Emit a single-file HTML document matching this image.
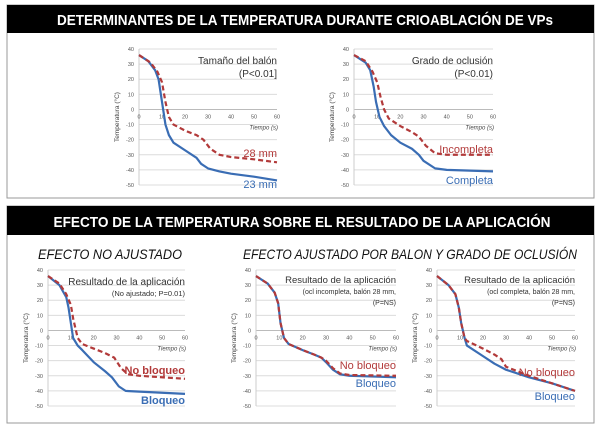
<!DOCTYPE html>
<html><head><meta charset="utf-8"><style>
html,body{margin:0;padding:0;background:#fff;width:600px;height:433px;overflow:hidden}
svg{display:block;font-family:"Liberation Sans",sans-serif}
</style></head><body>
<svg id="fig" width="600" height="433" viewBox="0 0 600 433">
<rect x="7" y="5" width="587" height="193" fill="#fff" stroke="#999"/>
<rect x="7" y="5" width="587" height="28" fill="#000"/>
<text x="305" y="25" fill="#fff" font-size="15" font-weight="bold" text-anchor="middle" textLength="496" lengthAdjust="spacingAndGlyphs">DETERMINANTES DE LA TEMPERATURA DURANTE CRIOABLACIÓN DE VPs</text>
<rect x="7" y="206" width="587" height="217" fill="#fff" stroke="#999"/>
<rect x="7" y="206" width="587" height="29" fill="#000"/>
<text x="302" y="227" fill="#fff" font-size="15" font-weight="bold" text-anchor="middle" textLength="497" lengthAdjust="spacingAndGlyphs">EFECTO DE LA TEMPERATURA SOBRE EL RESULTADO DE LA APLICACIÓN</text>
<text x="38" y="259" font-size="14" font-style="italic" fill="#111" textLength="144" lengthAdjust="spacingAndGlyphs">EFECTO NO AJUSTADO</text>
<text x="243" y="259" font-size="14" font-style="italic" fill="#111" textLength="334" lengthAdjust="spacingAndGlyphs">EFECTO AJUSTADO POR BALON Y GRADO DE OCLUSIÓN</text>
</svg>
<script>
const yTicks=[40,30,20,10,0,-10,-20,-30,-40,-50];
const xTicks=[0,10,20,30,40,50,60];
const c1SolidT=[0,4,7,8.5,9.5,10.5,11.5,13,15,20,25,27,30,35,40,50,60];
const c1SolidV=[36,32,26,20,10,0,-10,-17,-22,-27,-32,-36,-39,-41,-42.5,-44.5,-47];
const c1DashT=[0,5,8,10,11.5,13,15,20,25,28,31,35,40,50,60];
const c1DashV=[36,31,25,18,5,-5,-10,-14,-17,-20,-26,-30,-31.5,-33,-35];
const c2SolidT=[0,5,7,8.5,9.5,11,13,16,20,25,28,30,35,40,60];
const c2SolidV=[36,31,26,15,5,-5,-11,-17,-22,-26,-30,-34,-39,-40,-41];
const c2DashT=[0,5,8,10,11.5,13,15,20,25,28,31,35,40,60];
const c2DashV=[36,32,25,18,8,0,-6,-11,-15,-18,-24,-29,-30,-30];
const c3SolidT=[0,5,8,9,10,11,13,15,20,25,28,31,34,40,60];
const c3SolidV=[36,30,22,15,5,-5,-10,-13,-21,-27,-31,-37,-40,-40.5,-42];
const c3DashT=[0,5,8,10,11,13,15,20,25,29,32,35,40,60];
const c3DashV=[36,31,24,17,8,-5,-9,-12,-15,-18,-25,-29,-30,-32];
const c4SolidT=[0,5,8,9.5,10.5,12,14,20,25,28,30,33,36,40,60];
const c4SolidV=[36,31,25,18,5,-5,-9,-13,-16,-18,-21,-26,-29,-30,-31];
const c4DashT=[0,5,8,9.5,10.5,12,14,20,25,28,30,33,36,40,60];
const c4DashV=[36,31,25,18,5,-5,-9,-13,-16,-18,-20,-25,-28.5,-29.5,-30];
const c5SolidT=[0,5,8,9.5,10.5,12,13,20,25,30,40,50,60];
const c5SolidV=[36,30,24,15,5,-5,-10,-17,-22,-26,-31,-35,-40];
const c5DashT=[0,5,8,9.5,10.5,12,13,20,25,28,30,40,50,60];
const c5DashV=[36,30,24,15,5,-5,-7,-12,-16,-19,-24,-30,-35,-40];

const svg=document.getElementById('fig');
const NS='http://www.w3.org/2000/svg';
function mk(tag,attrs,parent){const e=document.createElementNS(NS,tag);for(const k in attrs)e.setAttribute(k,attrs[k]);(parent||svg).appendChild(e);return e;}
function chart(id,x0,x1,yTop,yBot,solidT,solidV,dashT,dashV,ann,labels){
  const g=mk('g',{});
  
  
  const sx=t=>x0+(t/60)*(x1-x0);
  const sy=v=>yTop+(40-v)/90*(yBot-yTop);
  yTicks.forEach(v=>{
    const l=mk('line',{x1:x0,x2:x1,y1:sy(v),y2:sy(v),stroke:v===0?'#bbb':'#dcdcdc','stroke-width':1},g);
    
    
    const t=mk('text',{x:x0-5,y:sy(v)+2,'font-size':5.5,'text-anchor':'end',fill:'#555'},g);
    
    
    t.textContent=v;
  });
  mk('line',{x1:x0,x2:x0,y1:yTop,y2:yBot,stroke:'#ccc'},g);
  xTicks.forEach(v=>{
    const t=mk('text',{x:sx(v),y:sy(0)+9,'font-size':5.5,'text-anchor':'middle',fill:'#555'},g);
    
    
    t.textContent=v;
  });
  const xl=mk('text',{x:x1+1,y:sy(0)+20,'font-size':6,'font-style':'italic','text-anchor':'end',fill:'#444'},g);
  
  
  xl.textContent='Tiempo (s)';
  const cy=(yTop+yBot)/2;
  const yl=mk('text',{x:x0-20,y:cy,'font-size':6.5,'text-anchor':'middle',fill:'#444',transform:`rotate(-90 ${x0-20} ${cy})`},g);
  
  
  yl.textContent='Temperatura (°C)';
  const ps=mk('polyline',{points:solidT.map((t,i)=>sx(t)+','+sy(solidV[i])).join(' '),fill:'none',stroke:'#3a6db4','stroke-width':2.2,'stroke-linejoin':'round'},g);
  
  
  const pd=mk('polyline',{points:dashT.map((t,i)=>sx(t)+','+sy(dashV[i])).join(' '),fill:'none',stroke:'#b23a3a','stroke-width':2.2,'stroke-dasharray':'5,3'},g);
  
  
  ann.forEach(a=>{
    const t=mk('text',{x:x1,y:a[1],'font-size':a[2],'text-anchor':'end',fill:'#333'},g);
    
    
    t.textContent=a[0];
  });
  labels.forEach(a=>{
    const t=mk('text',{x:x1,y:a[1],'font-size':a[2],'text-anchor':'end',fill:a[3],'font-weight':a[4]||'normal'},g);
    
    
    t.textContent=a[0];
  });
}
chart('chart-balloon-size',139,277,49,185,c1SolidT,c1SolidV,c1DashT,c1DashV,
 [['Tamaño del balón',64,10],['(P<0.01]',77,10]],
 [['28 mm',157,11,'#b23a3a'],['23 mm',188,11,'#3a6db4']]);
chart('chart-occlusion',354,493,49,185,c2SolidT,c2SolidV,c2DashT,c2DashV,
 [['Grado de oclusión',64,10],['(P<0.01)',77,10]],
 [['Incompleta',153,11,'#b23a3a'],['Completa',184,11,'#3a6db4']]);
chart('chart-unadjusted',48,185,270,406,c3SolidT,c3SolidV,c3DashT,c3DashV,
 [['Resultado de la aplicación',285,10],['(No ajustado; P=0.01)',296,7.5]],
 [['No bloqueo',374,11,'#b23a3a','bold'],['Bloqueo',404,11,'#3a6db4','bold']]);
chart('chart-adjusted-incomplete',256,396,270,406,c4SolidT,c4SolidV,c4DashT,c4DashV,
 [['Resultado de la aplicación',283,9.5],['(ocl incompleta, balón 28 mm,',294,7],['(P=NS)',305,7]],
 [['No bloqueo',369,11,'#b23a3a'],['Bloqueo',387,11,'#3a6db4']]);
chart('chart-adjusted-complete',437,575,270,406,c5SolidT,c5SolidV,c5DashT,c5DashV,
 [['Resultado de la aplicación',283,9.5],['(ocl completa, balón 28 mm,',294,7],['(P=NS)',305,7]],
 [['No bloqueo',376,11,'#b23a3a'],['Bloqueo',400,11,'#3a6db4']]);
</script>
</body></html>
